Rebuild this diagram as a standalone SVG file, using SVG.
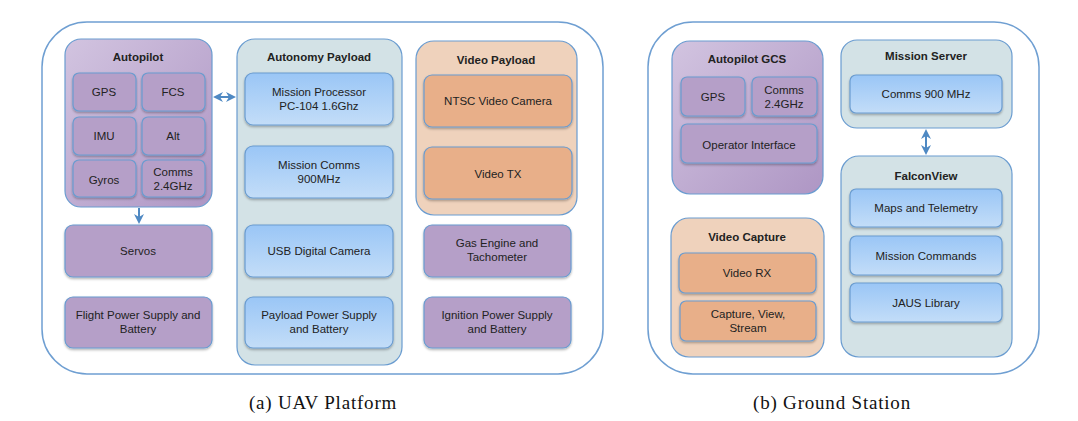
<svg xmlns="http://www.w3.org/2000/svg" width="1078" height="421" viewBox="0 0 1078 421">
<style>
.outer{fill:#fff;stroke:#6f9fd2;stroke-width:1.5}
.cont{stroke:#6a9cd0;stroke-width:1.2}
.box{stroke:#6a9cd0;stroke-width:1.2;filter:url(#sh)}
.pur{fill:#b59fc8}
.pc{fill:url(#gp)}
.blu{fill:url(#gb)}
.gry{fill:#d3e2e6}
.pch{fill:#efd2bc}
.org{fill:#e8af89}
text{font-family:"Liberation Sans",Arial,sans-serif;font-size:11.5px;fill:#222;text-anchor:middle}
.t{font-weight:bold;font-size:11.5px}
.cap{font-family:"Liberation Serif","Times New Roman",serif;font-size:19px;letter-spacing:0.8px;fill:#111}
.con{stroke:#4f89c3;stroke-width:2;fill:none}
</style>
<defs>
<linearGradient id="gp" x1="0" y1="0" x2="1" y2="1">
<stop offset="0" stop-color="#d2c4e0"/><stop offset="1" stop-color="#ae96c4"/>
</linearGradient>
<linearGradient id="gb" x1="0" y1="0" x2="0" y2="1">
<stop offset="0" stop-color="#9ac6f6"/><stop offset="1" stop-color="#c3ddf8"/>
</linearGradient>
<filter id="sh" x="-10%" y="-10%" width="120%" height="130%">
<feDropShadow dx="0" dy="1.5" stdDeviation="1" flood-color="#000" flood-opacity="0.3"/>
</filter>
<marker id="ah" viewBox="0 0 10 10" refX="8" refY="5" markerWidth="5" markerHeight="5" orient="auto-start-reverse">
<path d="M0,0 L10,5 L0,10 L3,5 z" fill="#4f89c3"/>
</marker>
</defs>

<rect id="uav" class="outer" x="42" y="22" width="561" height="352" rx="45"/>
<rect id="gs" class="outer" x="648" y="22" width="391" height="352" rx="45"/>

<g id="autopilot">
<rect class="cont pc" x="65" y="39" width="147" height="168" rx="16"/>
<text class="t" x="138" y="61">Autopilot</text>
</g>
<g id="gps"><rect class="box pur" x="73" y="73" width="63" height="38" rx="6"/><text x="104" y="96">GPS</text></g>
<g id="fcs"><rect class="box pur" x="142" y="73" width="63" height="38" rx="6"/><text x="173" y="96">FCS</text></g>
<g id="imu"><rect class="box pur" x="73" y="117" width="63" height="38" rx="6"/><text x="104" y="140">IMU</text></g>
<g id="alt"><rect class="box pur" x="142" y="117" width="63" height="38" rx="6"/><text x="173" y="140">Alt</text></g>
<g id="gyros"><rect class="box pur" x="73" y="160" width="63" height="37" rx="6"/><text x="104" y="184">Gyros</text></g>
<g id="comms24"><rect class="box pur" x="142" y="160" width="63" height="37" rx="6"/><text x="173" y="176">Comms</text><text x="173" y="190">2.4GHz</text></g>

<g id="servos"><rect class="box pur" x="65" y="225" width="147" height="52" rx="8"/><text x="138" y="255">Servos</text></g>
<g id="flightpower"><rect class="box pur" x="65" y="297" width="147" height="51" rx="8"/><text x="138" y="319">Flight Power Supply and</text><text x="138" y="333">Battery</text></g>

<g id="autonomy">
<rect class="cont gry" x="237" y="39" width="165" height="326" rx="18"/>
<text class="t" x="319" y="61">Autonomy Payload</text>
</g>
<g id="missionproc"><rect class="box blu" x="245" y="73" width="148" height="52" rx="8"/><text x="319" y="96">Mission Processor</text><text x="319" y="110">PC-104 1.6Ghz</text></g>
<g id="missioncomms"><rect class="box blu" x="245" y="146" width="148" height="52" rx="8"/><text x="319" y="169">Mission Comms</text><text x="319" y="183">900MHz</text></g>
<g id="usbcam"><rect class="box blu" x="245" y="225" width="148" height="52" rx="8"/><text x="319" y="255">USB Digital Camera</text></g>
<g id="payloadpower"><rect class="box blu" x="245" y="297" width="148" height="51" rx="8"/><text x="319" y="319">Payload Power Supply</text><text x="319" y="333">and Battery</text></g>

<g id="videopayload">
<rect class="cont pch" x="416" y="41" width="161" height="174" rx="18"/>
<text class="t" x="496" y="64">Video Payload</text>
</g>
<g id="ntsc"><rect class="box org" x="424" y="75" width="148" height="52" rx="8"/><text x="498" y="105">NTSC Video Camera</text></g>
<g id="videotx"><rect class="box org" x="424" y="147" width="148" height="52" rx="8"/><text x="498" y="178">Video TX</text></g>
<g id="gasengine"><rect class="box pur" x="424" y="225" width="147" height="52" rx="8"/><text x="497" y="247">Gas Engine and</text><text x="497" y="261">Tachometer</text></g>
<g id="ignition"><rect class="box pur" x="424" y="297" width="147" height="51" rx="8"/><text x="497" y="319">Ignition Power Supply</text><text x="497" y="333">and Battery</text></g>

<g id="autopilotgcs">
<rect class="cont pc" x="672" y="41" width="151" height="153" rx="18"/>
<text class="t" x="747" y="63">Autopilot GCS</text>
</g>
<g id="gcsgps"><rect class="box pur" x="681" y="77" width="64" height="39" rx="6"/><text x="713" y="101">GPS</text></g>
<g id="gcscomms"><rect class="box pur" x="752" y="77" width="65" height="39" rx="6"/><text x="784" y="94">Comms</text><text x="784" y="108">2.4GHz</text></g>
<g id="operator"><rect class="box pur" x="681" y="124" width="136" height="39" rx="6"/><text x="749" y="149">Operator Interface</text></g>

<g id="videocapture">
<rect class="cont pch" x="671" y="218" width="153" height="139" rx="18"/>
<text class="t" x="747" y="241">Video Capture</text>
</g>
<g id="videorx"><rect class="box org" x="679" y="253" width="137" height="40" rx="6"/><text x="747" y="277">Video RX</text></g>
<g id="capture"><rect class="box org" x="680" y="301" width="136" height="40" rx="6"/><text x="748" y="318">Capture, View,</text><text x="748" y="332">Stream</text></g>

<g id="missionserver">
<rect class="cont gry" x="841" y="40" width="171" height="88" rx="16"/>
<text class="t" x="926" y="60">Mission Server</text>
</g>
<g id="comms900"><rect class="box blu" x="850" y="75" width="152" height="38" rx="6"/><text x="926" y="98">Comms 900 MHz</text></g>

<g id="falconview">
<rect class="cont gry" x="841" y="156" width="171" height="201" rx="18"/>
<text class="t" x="926" y="180">FalconView</text>
</g>
<g id="maps"><rect class="box blu" x="850" y="189" width="152" height="38" rx="6"/><text x="926" y="212">Maps and Telemetry</text></g>
<g id="missioncmds"><rect class="box blu" x="850" y="236" width="152" height="39" rx="6"/><text x="926" y="260">Mission Commands</text></g>
<g id="jaus"><rect class="box blu" x="850" y="283" width="152" height="39" rx="6"/><text x="926" y="307">JAUS Library</text></g>

<g id="connectors">
<line class="con" x1="215" y1="97" x2="234" y2="97" marker-start="url(#ah)" marker-end="url(#ah)"/>
<line class="con" x1="139" y1="208" x2="139" y2="222" marker-end="url(#ah)"/>
<line class="con" x1="926" y1="131" x2="926" y2="153" marker-start="url(#ah)" marker-end="url(#ah)"/>
</g>

<text class="cap" x="323" y="409">(a) UAV Platform</text>
<text class="cap" x="832" y="409">(b) Ground Station</text>
</svg>
